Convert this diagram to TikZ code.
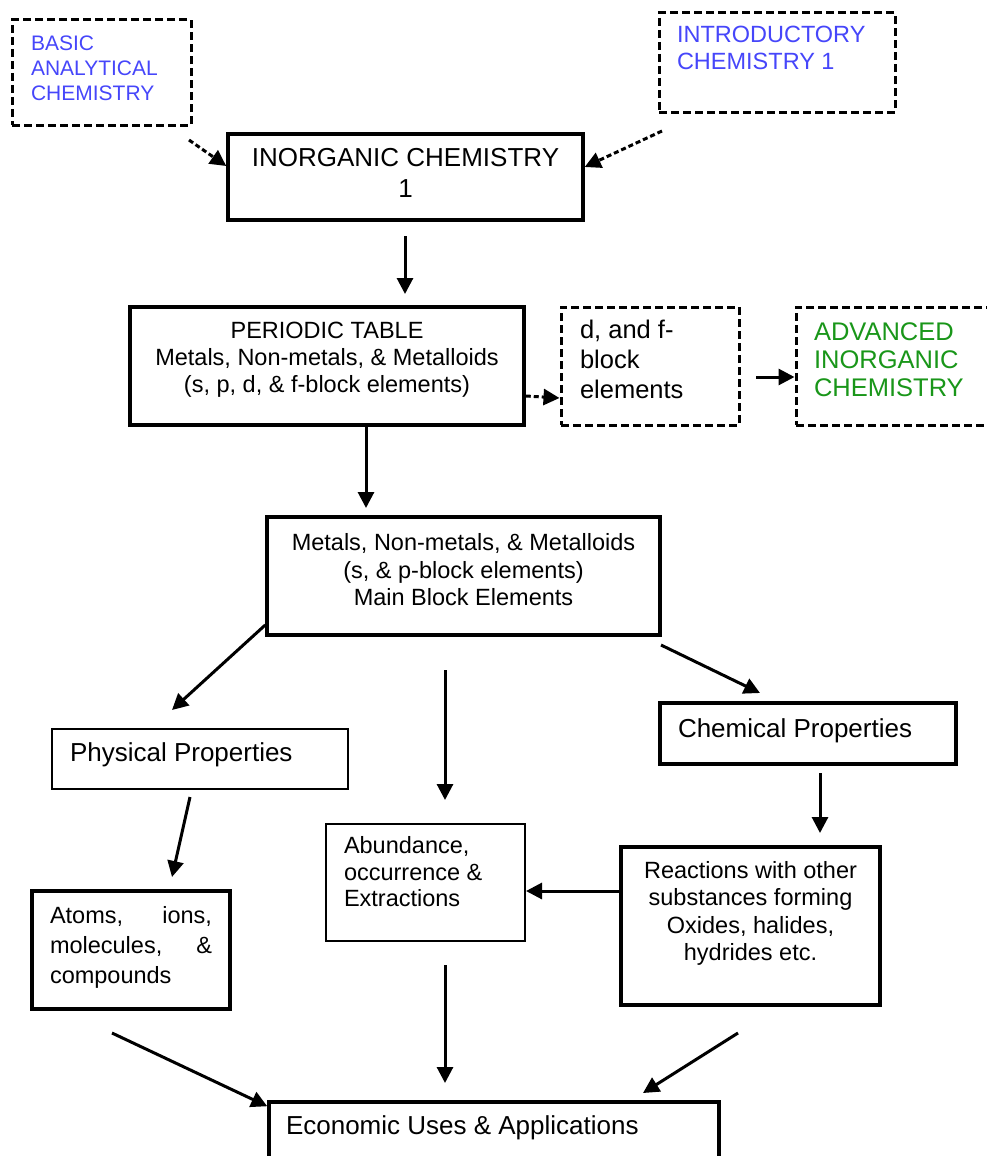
\documentclass[tikz,border=0pt]{standalone}
\usepackage{fontspec}
\setmainfont{Liberation Sans}
\usetikzlibrary{arrows.meta}
\definecolor{blueT}{RGB}{70,70,250}
\definecolor{greenT}{RGB}{25,150,25}
\newcommand{\tx}[3]{\parbox[c][#2pt][t]{#1pt}{#3}}
\newcommand{\fs}[2]{\fontsize{#1pt}{#2pt}\selectfont}
\begin{document}
\begin{tikzpicture}[x=1pt,y=-1pt,
 solidbox/.style={draw, line width=3.5pt, inner sep=0pt, rectangle},
 thinbox/.style={draw, line width=2pt, inner sep=0pt, rectangle},
 dashbox/.style={draw, line width=3pt, inner sep=0pt, rectangle, dash pattern=on 8pt off 4pt},
 arr/.style={line width=3pt, -{Triangle[length=16pt,width=16pt]}},
 darr/.style={arr, dash pattern=on 5pt off 3pt},
]
\useasboundingbox (0,0) rectangle (986,1156);

% boxes
\node[dashbox, minimum width=179pt, minimum height=105pt] (basic) at (101.5,72.5)
  {\tx{141}{74}{\raggedright\fs{21}{25}\color{blueT}BASIC\\ANALYTICAL\\CHEMISTRY}};
\node[dashbox, minimum width=236pt, minimum height=99pt] (intro) at (777,62.5)
  {\tx{200}{72}{\raggedright\fs{23.5}{27}\color{blueT}INTRODUCTORY\\CHEMISTRY 1}};
\node[solidbox, minimum width=355pt, minimum height=86pt] (inorg) at (405.5,177)
  {\tx{335}{57}{\centering\fs{26}{31}INORGANIC CHEMISTRY\\1}};
\node[solidbox, minimum width=394pt, minimum height=118pt] (per) at (327,366)
  {\tx{380}{87}{\centering\fs{23.5}{27}PERIODIC TABLE\\Metals, Non-metals, \& Metalloids\\(s, p, d, \& f-block elements)}};
\node[dashbox, minimum width=178pt, minimum height=118pt] (dfb) at (650,366)
  {\tx{140}{91}{\raggedright\fs{25.5}{30}d, and f-\\block\\elements}};
\node[dashbox, minimum width=214pt, minimum height=118pt] (adv) at (903,366)
  {\tx{178}{86}{\raggedright\fs{25.5}{28}\color{greenT}ADVANCED\\INORGANIC\\CHEMISTRY}};
\node[solidbox, minimum width=393pt, minimum height=118pt] (main) at (463.5,576)
  {\tx{380}{85}{\centering\fs{23.5}{27.5}Metals, Non-metals, \& Metalloids\\(s, \& p-block elements)\\Main Block Elements}};
\node[thinbox, minimum width=296pt, minimum height=60pt] (phys) at (200,759)
  {\tx{260}{33}{\raggedright\fs{26}{30}Physical Properties}};
\node[solidbox, minimum width=296pt, minimum height=61pt] (chem) at (808,733.5)
  {\tx{260}{30}{\raggedright\fs{26}{30}Chemical Properties}};
\node[thinbox, minimum width=199pt, minimum height=117pt] (abund) at (425.5,882.5)
  {\tx{163}{92}{\raggedright\fs{23.5}{26.5}Abundance,\\occurrence \&\\Extractions}};
\node[solidbox, minimum width=259pt, minimum height=158pt] (react) at (750.5,926)
  {\tx{240}{129}{\centering\fs{23.5}{27.3}Reactions with other\\substances forming\\Oxides, halides,\\hydrides etc.}};
\node[solidbox, minimum width=198pt, minimum height=118pt] (atoms) at (131,950)
  {\tx{162}{87}{\raggedright\fs{23.5}{30}Atoms,\hfill ions,\\molecules,\hfill \&\\compounds}};
\node[solidbox, minimum width=450pt, minimum height=78pt] (econ) at (494,1141)
  {\tx{416}{51}{\raggedright\fs{26}{30}Economic Uses \& Applications}};

% free ends
\coordinate (a1s) at (189,140);
\coordinate (a2s) at (662,131);
\coordinate (a3s) at (405,236);
\coordinate (a3e) at (405,294);
\coordinate (a5s) at (756,377);
\coordinate (a6e) at (366,508);
\coordinate (a7e) at (172,710);
\coordinate (a8s) at (445,670);
\coordinate (a8e) at (445,800);
\coordinate (a9s) at (661,645);
\coordinate (a9e) at (760,693);
\coordinate (a10s) at (190,797);
\coordinate (a10e) at (172,877);
\coordinate (a11s) at (820,773);
\coordinate (a11e) at (820,833);
\coordinate (a13s) at (112,1033);
\coordinate (a14s) at (445,965);
\coordinate (a14e) at (445,1083);
\coordinate (a15s) at (738,1033);
\coordinate (a15e) at (643,1093);

% connectors
\draw[darr] (a1s) -- ([yshift=11pt]inorg.west);
\draw[darr] (a2s) -- ([yshift=10pt]inorg.east);
\draw[arr] (a3s) -- (a3e);
\draw[darr] ([yshift=-30pt]per.east) -- ([yshift=-32pt]dfb.west);
\draw[arr] (a5s) -- ([yshift=-11pt]adv.west);
\draw[arr] ([xshift=39pt]per.south) -- (a6e);
\draw[arr] ([yshift=-49pt]main.west) -- (a7e);
\draw[arr] (a8s) -- (a8e);
\draw[arr] (a9s) -- (a9e);
\draw[arr] (a10s) -- (a10e);
\draw[arr] (a11s) -- (a11e);
\draw[arr] ([yshift=35pt]react.west) -- ([yshift=-8.5pt]abund.east);
\draw[arr] (a13s) -- ([yshift=-6pt]econ.north west);
\draw[arr] (a14s) -- (a14e);
\draw[arr] (a15s) -- (a15e);
\end{tikzpicture}
\end{document}
